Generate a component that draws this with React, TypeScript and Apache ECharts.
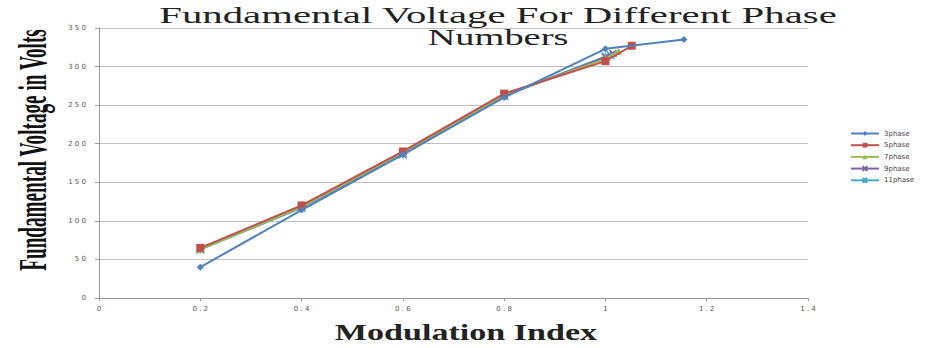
import React, { useEffect, useRef } from "react";
import * as echarts from "echarts";

const xTicks = [0, 0.2, 0.4, 0.6, 0.8, 1, 1.2, 1.4];
const phase3 = [[0.2, 40], [0.4, 114], [0.6, 186], [0.8, 260], [1.0, 323], [1.155, 335]];
const phase5 = [[0.2, 65], [0.4, 120], [0.6, 190], [0.8, 265], [1.0, 307], [1.052, 327]];
const phase7 = [[0.2, 63], [0.4, 118], [0.6, 188], [0.8, 263], [1.0, 310], [1.026, 320]];
const phase9 = [[0.2, 63], [0.4, 118], [0.6, 187], [0.8, 262], [1.0, 312], [1.015, 317]];
const phase11 = [[0.2, 63], [0.4, 117], [0.6, 186], [0.8, 262], [1.0, 313], [1.01, 315]];
const seriesNames = ["3phase", "5phase", "7phase", "9phase", "11phase"];
const seriesColors = ["#4F81BD", "#C0504D", "#9BBB59", "#8064A2", "#4BACC6"];

const xPath = "path://M0,0 L10,10 M10,0 L0,10";
const starPath = "path://M5,0 L5,10 M0,0 L10,10 M10,0 L0,10";

export default function App() {
  const ref = useRef<HTMLDivElement>(null);
  useEffect(() => {
    if (!ref.current) return;
    const chart = echarts.init(ref.current, null, { renderer: "svg" });
    const datas = [phase3, phase5, phase7, phase9, phase11];
    const symbols = ["diamond", "rect", "triangle", xPath, starPath];
    const sizes = [7, 8, 7, 7, 8];
    chart.setOption({
      animation: false,
      backgroundColor: "#fff",
      grid: { left: 99, right: 118, top: 28, bottom: 50, containLabel: false },
      xAxis: {
        type: "value",
        min: 0,
        max: 1.4,
        interval: 0.2,
        axisLine: { show: true, lineStyle: { color: "#999", width: 1 } },
        axisTick: { show: true, length: 3, lineStyle: { color: "#999" } },
        splitLine: { show: false },
        axisLabel: {
          color: "#555",
          fontSize: 7,
          fontFamily: "DejaVu Sans",
          margin: 7,
          formatter: (v: number) => {
            const t = xTicks.find((x) => Math.abs(x - v) < 1e-6);
            return t === undefined ? "" : String(t).split("").join(" ");
          },
        },
      },
      yAxis: {
        type: "value",
        min: 0,
        max: 350,
        interval: 50,
        axisLine: { show: true, lineStyle: { color: "#999", width: 1 } },
        axisTick: { show: true, length: 4, lineStyle: { color: "#999" } },
        splitLine: { show: true, lineStyle: { color: "#BFBFBF", width: 1 } },
        axisLabel: {
          color: "#555",
          fontSize: 7,
          fontFamily: "DejaVu Sans",
          margin: 13,
          formatter: (v: number) => String(v).split("").join(" "),
        },
      },
      legend: {
        orient: "vertical",
        left: 845,
        top: 125,
        itemWidth: 28,
        itemHeight: 6,
        itemGap: 4.7,
        textStyle: { fontSize: 7, color: "#444", fontFamily: "DejaVu Sans" },
        data: seriesNames,
      },
      graphic: [
        {
          type: "text",
          x: 498,
          y: 15,
          scaleX: 1.7,
          style: {
            text: "Fundamental Voltage For Different Phase",
            font: "24px 'Liberation Serif'",
            fill: "#222",
            align: "center",
            verticalAlign: "middle",
          },
        },
        {
          type: "text",
          x: 498,
          y: 37,
          scaleX: 1.6,
          style: {
            text: "Numbers",
            font: "24px 'Liberation Serif'",
            fill: "#222",
            align: "center",
            verticalAlign: "middle",
          },
        },
        {
          type: "text",
          x: 33,
          y: 150,
          rotation: Math.PI / 2,
          scaleX: 0.48,
          style: {
            text: "Fundamental Voltage in Volts",
            font: "bold 40px 'Liberation Serif'",
            fill: "#111",
            align: "center",
            verticalAlign: "middle",
          },
        },
        {
          type: "text",
          x: 466,
          y: 332,
          scaleX: 1.42,
          style: {
            text: "Modulation Index",
            font: "bold 24px 'Liberation Serif'",
            fill: "#222",
            align: "center",
            verticalAlign: "middle",
          },
        },
      ],
      series: datas.map((d, i) => ({
        name: seriesNames[i],
        type: "line",
        data: d,
        symbol: symbols[i],
        symbolSize: sizes[i],
        showAllSymbol: true,
        lineStyle: { width: 2, color: seriesColors[i] },
        itemStyle: {
          color: seriesColors[i],
          borderColor: seriesColors[i],
          borderWidth: i >= 3 ? 1.5 : 0,
        },
        z: 10 - i,
      })),
    });
    return () => chart.dispose();
  }, []);
  return <div ref={ref} style={{ width: 926, height: 348, position: "absolute", left: 0, top: 0 }} />;
}
